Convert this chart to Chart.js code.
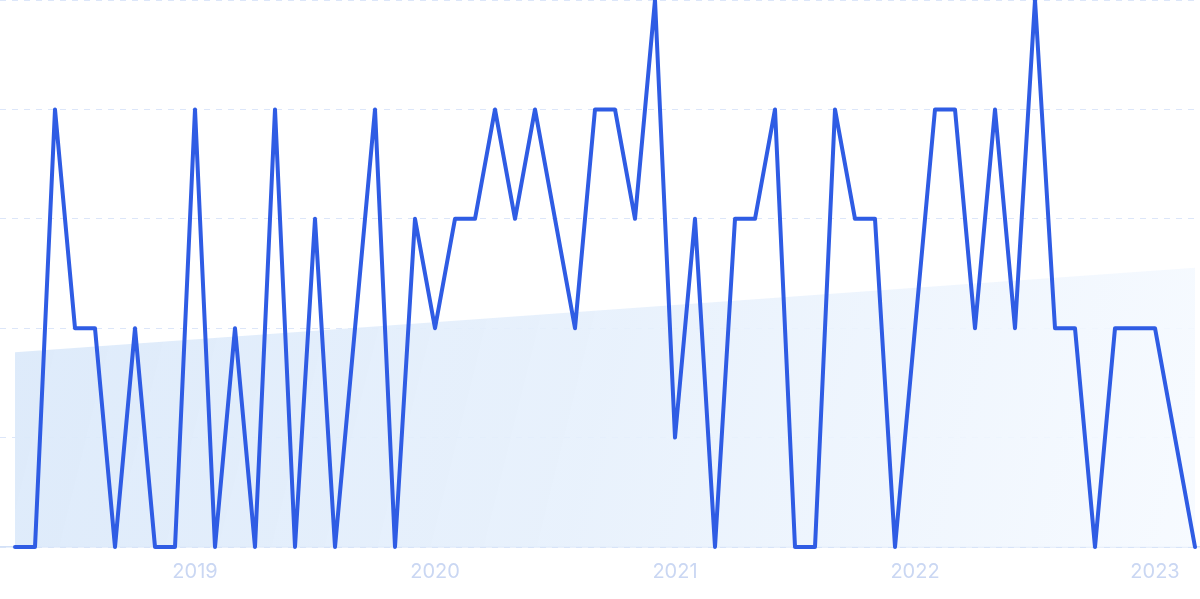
<!DOCTYPE html>
<html>
<head>
<meta charset="utf-8">
<script src="https://cdn.jsdelivr.net/npm/chart.js@4"></script>
<style>
  html, body { margin: 0; padding: 0; background: #ffffff; }
  #wrap { width: 1200px; height: 599px; }
</style>
</head>
<body>
<div id="wrap"><canvas id="chart"></canvas></div>
<script>
const colors = {
  line: "#2f5ce4",
  grid: "#dce6f9",
  axis: "#d3e1f7",
  tick: "#cad7f3",
};

// monthly values, April 2018 .. March 2023
const months = [
  "2018-04", "2018-05", "2018-06", "2018-07", "2018-08", "2018-09", "2018-10", "2018-11", "2018-12",
  "2019-01", "2019-02", "2019-03", "2019-04", "2019-05", "2019-06", "2019-07", "2019-08", "2019-09", "2019-10", "2019-11", "2019-12",
  "2020-01", "2020-02", "2020-03", "2020-04", "2020-05", "2020-06", "2020-07", "2020-08", "2020-09", "2020-10", "2020-11", "2020-12",
  "2021-01", "2021-02", "2021-03", "2021-04", "2021-05", "2021-06", "2021-07", "2021-08", "2021-09", "2021-10", "2021-11", "2021-12",
  "2022-01", "2022-02", "2022-03", "2022-04", "2022-05", "2022-06", "2022-07", "2022-08", "2022-09", "2022-10", "2022-11", "2022-12",
  "2023-01", "2023-02", "2023-03",
];

const values = [
  0, 0, 4, 2, 2, 0, 2, 0, 0,
  4, 0, 2, 0, 4, 0, 3, 0, 2, 4, 0, 3,
  2, 3, 3, 4, 3, 4, 3, 2, 4, 4, 3, 5,
  1, 3, 0, 3, 3, 4, 0, 0, 4, 3, 3, 0,
  2, 4, 4, 2, 4, 2, 5, 2, 2, 0, 2, 2,
  2, 1, 0,
];

const yearTicks = ["2019", "2020", "2021", "2022", "2023"];

// least squares trend of the series
function trendLine(vals) {
  const n = vals.length;
  const mx = (n - 1) / 2;
  const my = vals.reduce((a, b) => a + b, 0) / n;
  let num = 0, den = 0;
  vals.forEach((v, i) => { num += (i - mx) * (v - my); den += (i - mx) * (i - mx); });
  const slope = num / den;
  return [
    { x: 0, y: my - slope * mx },
    { x: n - 1, y: my + slope * (n - 1 - mx) },
  ];
}

function renderChart() {
  const points = values.map((v, i) => ({ x: i, y: v }));
  const tickPos = yearTicks.map((y) => months.indexOf(y + "-01"));

  const config = {
    type: "line",
    data: {
      datasets: [
        {
          label: "value",
          data: points,
          borderColor: colors.line,
          borderWidth: 4,
          pointRadius: 0,
          tension: 0,
          fill: false,
          borderJoinStyle: "round",
          borderCapStyle: "round",
          clip: false,
          order: 0,
        },
        {
          label: "trend",
          data: trendLine(values),
          borderWidth: 0,
          pointRadius: 0,
          fill: "origin",
          backgroundColor: (ctx) => {
            const area = ctx.chart.chartArea;
            if (!area) return "rgba(220,234,250,0.9)";
            const g = ctx.chart.ctx.createLinearGradient(area.left, area.top + 250, area.right, area.bottom);
            g.addColorStop(0, "rgba(219,233,250,0.95)");
            g.addColorStop(0.5, "rgba(230,240,252,0.9)");
            g.addColorStop(1, "rgba(246,250,255,0.9)");
            return g;
          },
          order: 1,
        },
      ],
    },
    options: {
      responsive: true,
      maintainAspectRatio: false,
      animation: false,
      layout: { padding: { top: 0, left: 0, right: 0, bottom: 2 } },
      plugins: {
        legend: { display: false },
        tooltip: { enabled: false },
      },
      scales: {
        x: {
          type: "linear",
          min: -0.75,
          max: months.length - 0.75,
          afterBuildTicks: (axis) => {
            axis.ticks = tickPos.map((v) => ({ value: v }));
          },
          ticks: {
            autoSkip: false,
            maxRotation: 0,
            color: colors.tick,
            padding: 13,
            font: { family: "Inter", size: 20 },
            callback: (v) => months[v] ? months[v].slice(0, 4) : "",
          },
          grid: { display: false, drawTicks: false },
          border: { display: true, color: colors.axis, width: 1.5 },
        },
        y: {
          min: 0,
          max: 5,
          ticks: { display: false, stepSize: 1 },
          grid: { color: colors.grid, drawTicks: false, lineWidth: 1 },
          border: { display: false, dash: [6, 6] },
        },
      },
    },
  };

  new Chart(document.getElementById("chart"), config);
}

renderChart();
</script>
</body>
</html>
